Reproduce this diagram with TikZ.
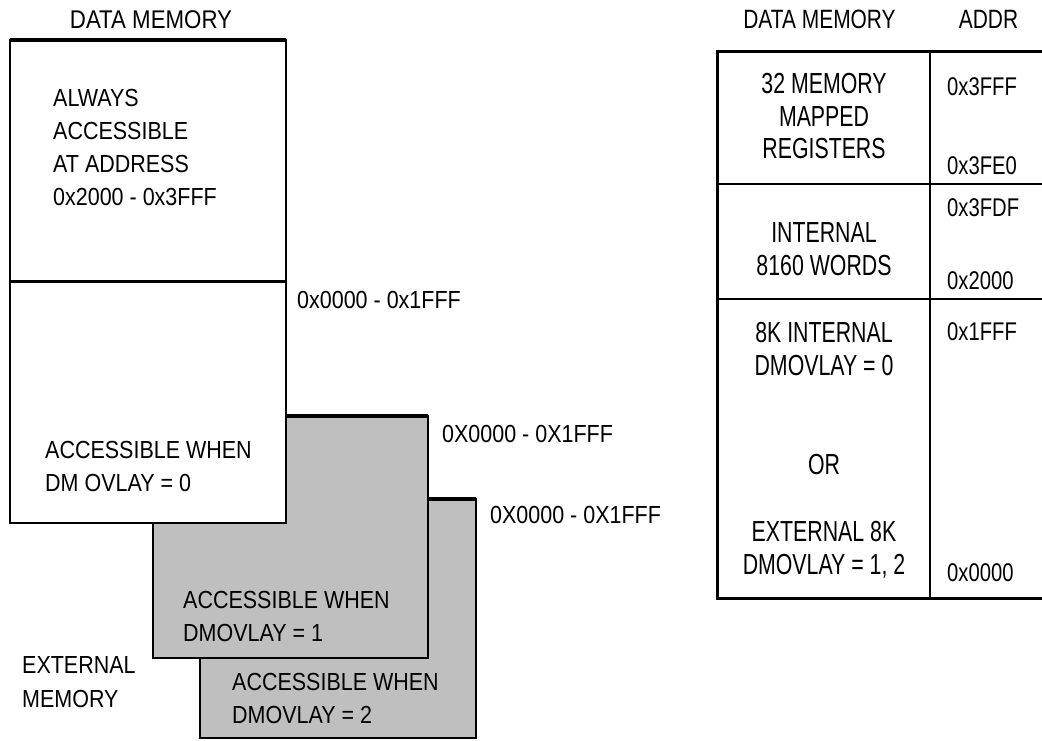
\documentclass[tikz,border=0pt]{standalone}
\usepackage{fontspec}
\setmainfont{Liberation Sans}
\newfontfamily\lfont[FakeStretch=0.87]{Liberation Sans}
\newfontfamily\tfont[FakeStretch=0.735]{Liberation Sans}
\newfontfamily\afont[FakeStretch=0.79]{Liberation Sans}
\definecolor{boxgray}{RGB}{191,191,191}
\begin{document}
\begin{tikzpicture}[x=1pt,y=-1pt,
  ltxt/.style={inner sep=0pt, anchor=base west, font=\lfont\fontsize{24.7}{33}\selectfont},
  lhead/.style={inner sep=0pt, anchor=base, font=\lfont\fontsize{25.6}{33}\selectfont},
  ttxt/.style={inner sep=0pt, anchor=base, font=\tfont\fontsize{29}{33}\selectfont},
  atxt/.style={inner sep=0pt, anchor=base west, font=\afont\fontsize{25.6}{33}\selectfont},
  ahead/.style={inner sep=0pt, anchor=base, font=\afont\fontsize{26.5}{33}\selectfont},
  memline/.style={line width=2pt},
  topline/.style={line width=3.5pt},
  grayblock/.style={fill=boxgray, draw=black, line width=2pt},
  whiteblock/.style={fill=white, draw=black, line width=2pt}]
\fill[white] (0,0) rectangle (1042,740);
\useasboundingbox (0,0) rectangle (1042,740);
% ---- left: stacked memory blocks
\filldraw[grayblock] (200,499) rectangle (476,738);
\draw[topline] (200,499) -- (476,499);
\filldraw[grayblock] (153,416) rectangle (428,658);
\draw[topline] (153,416) -- (428,416);
\filldraw[whiteblock] (10,281) rectangle (286,523);
\filldraw[whiteblock] (10,40) rectangle (286,281);
\draw[topline] (10,40) -- (286,40);
\draw[line width=3pt] (10,281) -- (286,281);

\node[lhead] (lhdr) at (151,28) {DATA MEMORY};
\node[ltxt] (a1) at (53,106) {ALWAYS};
\node[ltxt] (a2) at (53,139) {ACCESSIBLE};
\node[ltxt] (a3) at (53,172) {AT ADDRESS};
\node[ltxt] (a4) at (53,205) {0x2000 - 0x3FFF};
\node[ltxt] (r0) at (297,308) {0x0000 - 0x1FFF};
\node[ltxt] (b1) at (45,458) {ACCESSIBLE WHEN};
\node[ltxt] (b2) at (45,491) {DM OVLAY = 0};
\node[ltxt] (r1) at (442,442) {0X0000 - 0X1FFF};
\node[ltxt] (r2) at (490,523) {0X0000 - 0X1FFF};
\node[ltxt] (c1) at (183,608) {ACCESSIBLE WHEN};
\node[ltxt] (c2) at (183,641) {DMOVLAY = 1};
\node[ltxt] (e1) at (22,673) {EXTERNAL};
\node[ltxt] (e2) at (22,707) {MEMORY};
\node[ltxt] (d1) at (232,690) {ACCESSIBLE WHEN};
\node[ltxt] (d2) at (232,723) {DMOVLAY = 2};

% ---- right: memory map table
\draw[line width=3pt] (1042,51) -- (717,51) -- (717,598) -- (1042,598);
\draw[memline] (717,184) -- (1042,184);
\draw[memline] (717,299) -- (1042,299);
\draw[memline] (930,51) -- (930,598);

\node[ahead] (thdr) at (819.5,28) {DATA MEMORY};
\node[ahead] (ahdr) at (988.5,28) {ADDR};

\node[ttxt] (t1) at (824,93.5) {32 MEMORY};
\node[ttxt] (t2) at (824,126) {MAPPED};
\node[ttxt] (t3) at (824,158) {REGISTERS};
\node[ttxt] (t4) at (824,242) {INTERNAL};
\node[ttxt] (t5) at (824,275) {8160 WORDS};
\node[ttxt] (t6) at (824,342) {8K INTERNAL};
\node[ttxt] (t7) at (824,375.5) {DMOVLAY = 0};
\node[ttxt] (t8) at (824,474) {OR};
\node[ttxt] (t9) at (824,541) {EXTERNAL 8K};
\node[ttxt] (t10) at (824,574) {DMOVLAY = 1, 2};

\node[atxt] (x1) at (947,95) {0x3FFF};
\node[atxt] (x2) at (947,174) {0x3FE0};
\node[atxt] (x3) at (947,216) {0x3FDF};
\node[atxt] (x4) at (947,289) {0x2000};
\node[atxt] (x5) at (947,340) {0x1FFF};
\node[atxt] (x6) at (947,581) {0x0000};
\end{tikzpicture}
\end{document}
